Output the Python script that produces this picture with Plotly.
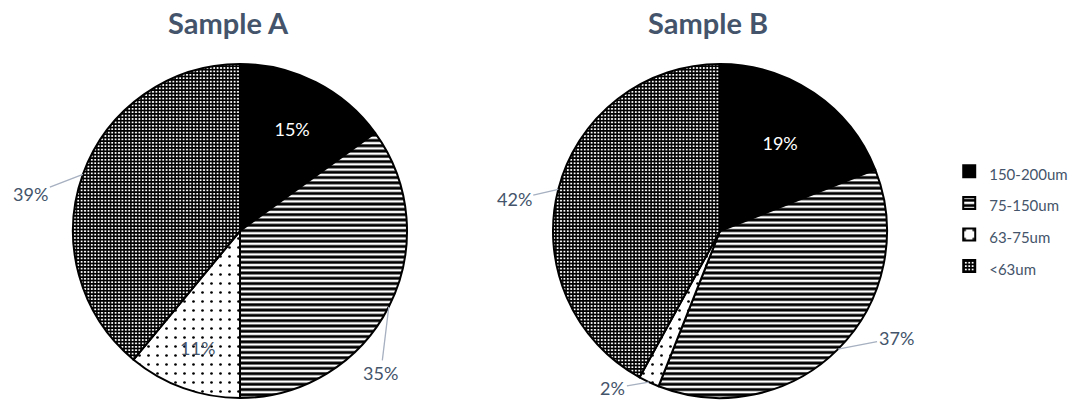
import math
import plotly.graph_objects as go

# Particle size distribution per sample
categories = ["150-200um", "75-150um", "63-75um", "<63um"]
sample_a = [15, 35, 11, 39]
sample_b = [19, 37, 2, 42]
titles = ["Sample A", "Sample B"]

W, H = 1075, 400
TEXT = "#44546A"
LEADER = "#A6B0C0"
FONT = "Lato, Open Sans, sans-serif"

# pie geometry in pixels (center x, center y, radius)
centers = [(240, 231), (720, 231)]
R = 167

# which slices carry their label inside; the rest get leader lines
inside = [[True, False, True, False], [True, False, False, False]]
# label offsets (px) from the slice edge for outside labels
offsets = [
    {1: (-8, 66), 3: (-52, 20)},
    {1: (58, -11), 2: (-36, 6), 3: (-44, 10)},
]

pattern = dict(
    shape=["", "-", ".", "+"],
    fgcolor="black",
    bgcolor="white",
    size=[8, 5.3, 9, 3.4],
    solidity=[0.5, 0.55, 0.07, 0.7],
)

# larger legend font sets the row pitch; the visible text stays small
legend_labels = [f"<span style='font-size:15px'>{c}</span>" for c in categories]

fig = go.Figure()
annotations = []
for k, vals in enumerate([sample_a, sample_b]):
    cx, cy = centers[k]
    dom_x = [(cx - R) / W, (cx + R) / W]
    dom_y = [(H - (cy + R)) / H, (H - (cy - R)) / H]
    texts = [f"{v}%" if inside[k][i] else "" for i, v in enumerate(vals)]
    fig.add_trace(go.Pie(
        labels=legend_labels,
        values=vals,
        sort=False,
        direction="clockwise",
        rotation=0,
        domain=dict(x=dom_x, y=dom_y),
        text=texts,
        textinfo="text",
        textposition=["inside" if f else "none" for f in inside[k]],
        insidetextorientation="horizontal",
        insidetextfont=dict(family=FONT, size=18,
                            color=["white", TEXT, TEXT, TEXT]),
        marker=dict(colors=["black", "white", "white", "white"],
                    line=dict(color="black", width=2),
                    pattern=pattern),
        hovertext=categories,
        hoverinfo="text+percent",
        showlegend=(k == 0),
    ))

    # outside labels with leader lines placed from the slice mid-angles
    total = sum(vals)
    cum = 0
    for i, v in enumerate(vals):
        mid = (cum + v / 2) / total * 2 * math.pi
        cum += v
        if inside[k][i]:
            continue
        ex = cx + R * math.sin(mid)
        ey = cy - R * math.cos(mid)
        ax, ay = offsets[k][i]
        annotations.append(dict(
            x=ex / W, y=1 - ey / H, xref="paper", yref="paper",
            ax=ax, ay=ay, axref="pixel", ayref="pixel",
            text=f"{v}%", showarrow=True, arrowhead=0, arrowwidth=1.3,
            arrowcolor=LEADER, standoff=0,
            font=dict(family=FONT, size=18, color=TEXT),
        ))

    annotations.append(dict(
        x=(cx - 12) / W, y=1 - 22 / H, xref="paper", yref="paper",
        xanchor="center", yanchor="middle",
        text=f"<b>{titles[k]}</b>", showarrow=False,
        font=dict(family=FONT, size=29, color=TEXT),
    ))

fig.update_layout(
    width=W, height=H,
    margin=dict(l=0, r=0, t=0, b=0, autoexpand=False),
    paper_bgcolor="white",
    plot_bgcolor="white",
    annotations=annotations,
    legend=dict(
        x=0.883, y=1 - 219 / H, xanchor="left", yanchor="middle",
        font=dict(family=FONT, size=22, color=TEXT),
        itemwidth=30,
    ),
)

fig.write_html("out.html")
